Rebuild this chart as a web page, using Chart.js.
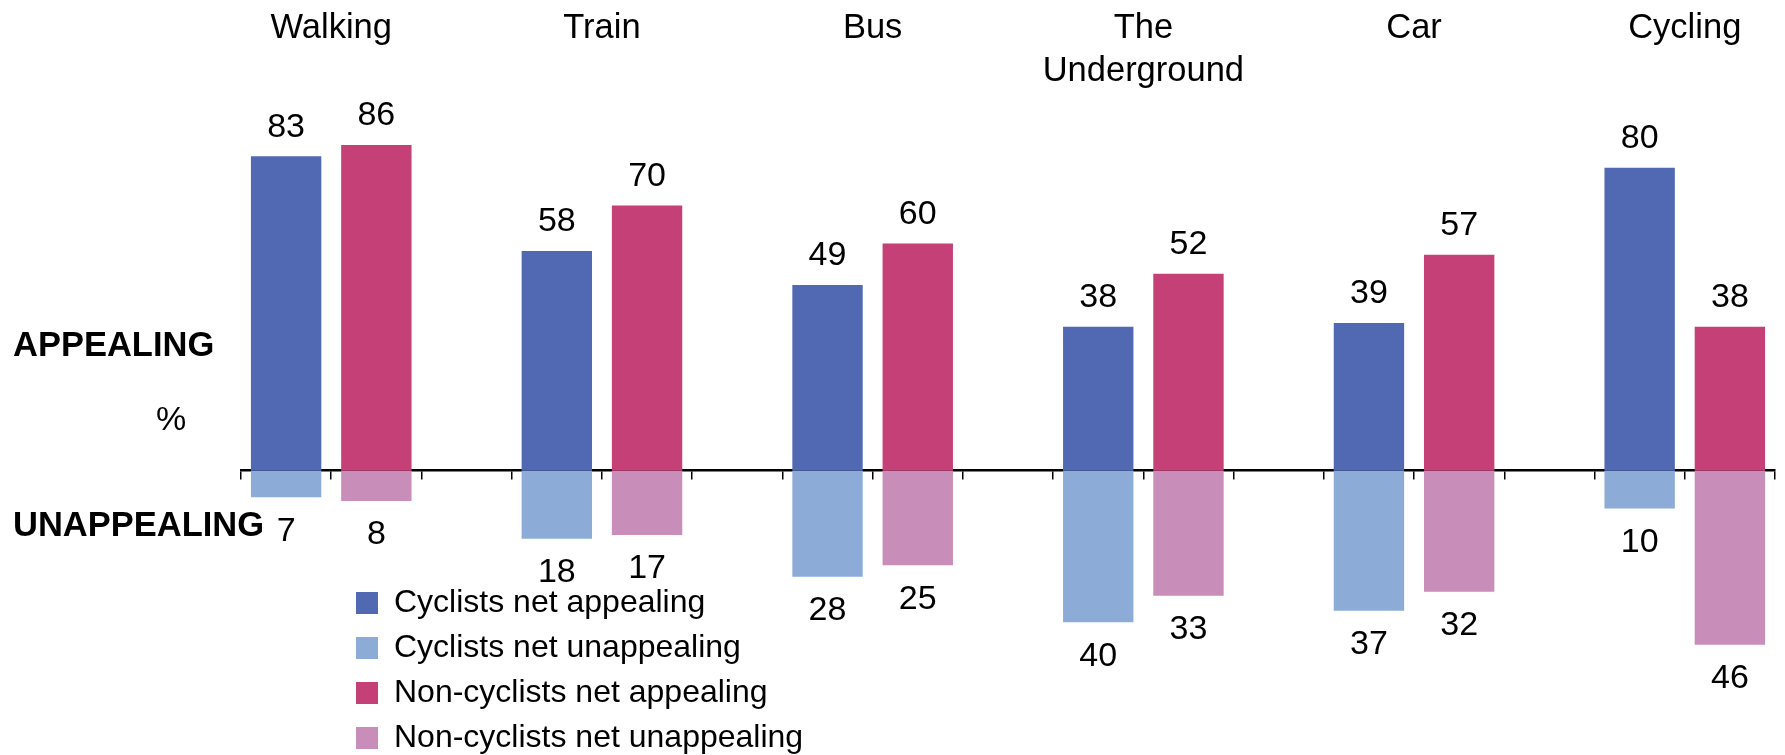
<!DOCTYPE html>
<html>
<head>
<meta charset="utf-8">
<script src="https://cdn.jsdelivr.net/npm/chart.js@4/dist/chart.umd.min.js"></script>
<style>
    body { margin: 0; background: #fff; }
    #wrap { width: 1785px; height: 755px; }
</style>
</head>
<body>
<div id="wrap"><canvas id="modeChart" width="1785" height="755"></canvas></div>
<script>
// Transport modes and net appeal scores (%)
const categories = ['Walking', 'Train', 'Bus', 'The Underground', 'Car', 'Cycling'];
const cyclistsAppealing = [83, 58, 49, 38, 39, 80];
const cyclistsUnappealing = [7, 18, 28, 40, 37, 10];
const nonCyclistsAppealing = [86, 70, 60, 52, 57, 38];
const nonCyclistsUnappealing = [8, 17, 25, 33, 32, 46];

const seriesNames = [
    'Cyclists net appealing',
    'Cyclists net unappealing',
    'Non-cyclists net appealing',
    'Non-cyclists net unappealing'
];
const colors = ['#5169B2', '#8CACD7', '#C54077', '#C88DB8'];

// each mode gets 3 slots: cyclists, non-cyclists, gap (no gap after the last one)
const slotCount = categories.length * 3 - 1;
const slotLabels = [];
for (let i = 0; i < slotCount; i++) {
    slotLabels.push(i % 3 === 2 ? '' : categories[Math.floor(i / 3)]);
}

function toSlots(values, offset, sign) {
    const out = new Array(slotCount).fill(null);
    values.forEach((v, i) => { out[i * 3 + offset] = sign * v; });
    return out;
}

const FONT = "'Liberation Sans', Arial, sans-serif";
Chart.defaults.font.family = FONT;
Chart.defaults.color = '#000';

// draws the numbers above / below each bar
const valueLabels = {
    id: 'valueLabels',
    afterDatasetsDraw(chart) {
        const ctx = chart.ctx;
        ctx.save();
        ctx.font = `34px ${FONT}`;
        ctx.fillStyle = '#000';
        ctx.textAlign = 'center';
        ctx.textBaseline = 'middle';
        chart.data.datasets.forEach((ds, i) => {
            const meta = chart.getDatasetMeta(i);
            meta.data.forEach((bar, j) => {
                const v = ds.data[j];
                if (v === null) return;
                const y = v >= 0 ? bar.y - 29 : bar.y + 34;
                ctx.fillText(String(Math.abs(v)), bar.x, y);
            });
        });
        ctx.restore();
    }
};

// mode names on top and the side captions
const captions = {
    id: 'captions',
    afterDraw(chart) {
        const ctx = chart.ctx;
        const x = chart.scales.x;
        ctx.save();
        ctx.fillStyle = '#000';
        ctx.textBaseline = 'middle';
        ctx.textAlign = 'center';
        ctx.font = `34.5px ${FONT}`;
        categories.forEach((name, i) => {
            const cx = (x.getPixelForValue(i * 3) + x.getPixelForValue(i * 3 + 1)) / 2;
            const lines = name.split(' ');
            lines.forEach((line, k) => ctx.fillText(line, cx, 28 + k * 43));
        });
        ctx.font = `34px ${FONT}`;
        ctx.fillText('%', 171, 421);
        ctx.textAlign = 'left';
        ctx.font = `bold 34.5px ${FONT}`;
        ctx.fillText('APPEALING', 13, 346);
        ctx.fillText('UNAPPEALING', 13, 526);
        ctx.restore();
    }
};

// move the built-in legend under the chart's left side
const placeLegend = {
    id: 'placeLegend',
    afterLayout(chart) {
        const lg = chart.legend;
        if (!lg) return;
        lg.left = 343;
        lg.top = 574;
        lg.right = 343 + lg.width;
        lg.bottom = 574 + 300;
    }
};

new Chart(document.getElementById('modeChart'), {
    type: 'bar',
    data: {
        labels: slotLabels,
        datasets: [
            { label: seriesNames[0], data: toSlots(cyclistsAppealing, 0, 1), backgroundColor: colors[0] },
            { label: seriesNames[1], data: toSlots(cyclistsUnappealing, 0, -1), backgroundColor: colors[1] },
            { label: seriesNames[2], data: toSlots(nonCyclistsAppealing, 1, 1), backgroundColor: colors[2] },
            { label: seriesNames[3], data: toSlots(nonCyclistsUnappealing, 1, -1), backgroundColor: colors[3] }
        ]
    },
    options: {
        responsive: false,
        animation: false,
        devicePixelRatio: 1,
        layout: { padding: { left: 241, right: 10, top: 92, bottom: 95 } },
        datasets: {
            bar: { categoryPercentage: 1, barPercentage: 0.78, borderWidth: 0 }
        },
        scales: {
            x: {
                stacked: true,
                position: { y: 0 },
                z: 1,
                grid: { drawOnChartArea: false, drawTicks: true, tickLength: 8, color: '#000', lineWidth: 1.5 },
                border: { display: true, color: '#000', width: 2.5 },
                ticks: { display: false }
            },
            y: {
                stacked: true,
                display: false,
                min: -50,
                max: 100
            }
        },
        plugins: {
            tooltip: { enabled: false },
            legend: {
                position: 'chartArea',
                align: 'start',
                labels: {
                    boxWidth: 22,
                    boxHeight: 22,
                    padding: 13,
                    color: '#000',
                    font: { size: 32, family: FONT }
                }
            }
        }
    },
    plugins: [valueLabels, captions, placeLegend]
});
</script>
</body>
</html>
